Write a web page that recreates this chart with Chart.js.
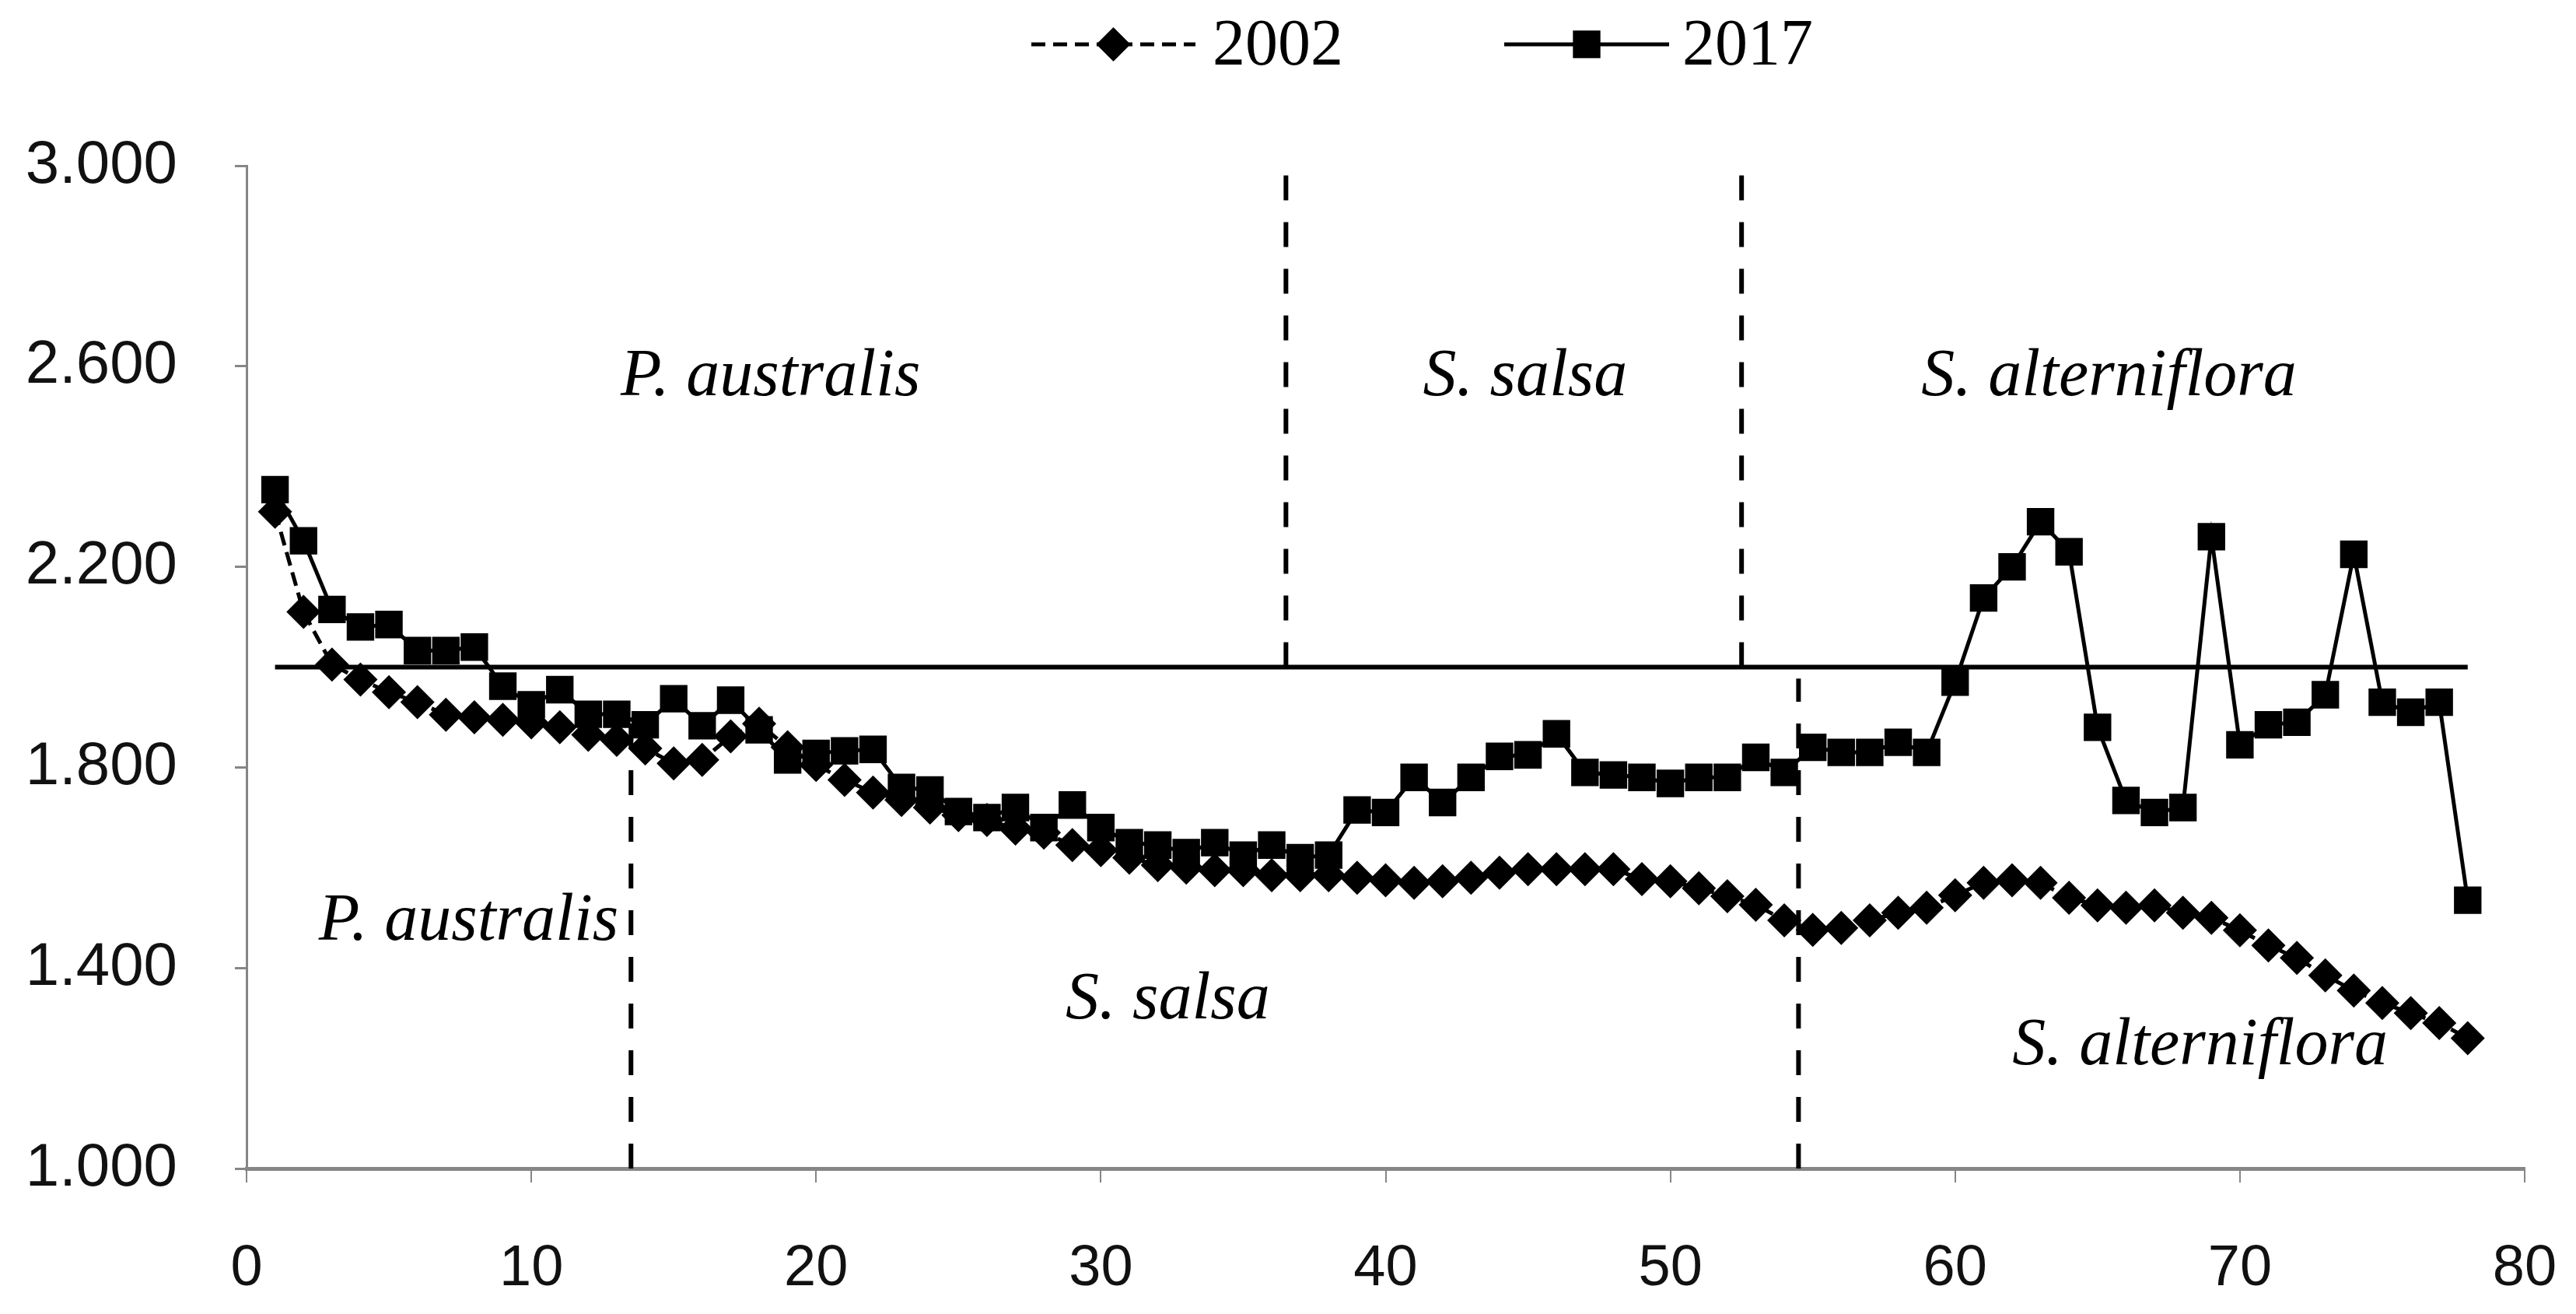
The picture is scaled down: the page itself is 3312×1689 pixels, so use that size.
<!DOCTYPE html>
<html>
<head>
<meta charset="utf-8">
<script src="https://cdn.jsdelivr.net/npm/chart.js@4.4.1/dist/chart.umd.min.js"></script>
<style>
    html, body { margin: 0; padding: 0; background: #fff; }
    #wrap { width: 3312px; height: 1689px; }
</style>
</head>
<body>
<div id="wrap"><canvas id="mychart" width="3312" height="1689"></canvas></div>
<script>
"use strict";

// sampling positions along the transect
const POSITIONS = [
    1, 2, 3, 4, 5, 6, 7, 8, 9, 10, 11, 12, 13, 14, 15, 16, 17, 18, 19, 20,
    21, 22, 23, 24, 25, 26, 27, 28, 29, 30, 31, 32, 33, 34, 35, 36, 37, 38, 39, 40,
    41, 42, 43, 44, 45, 46, 47, 48, 49, 50, 51, 52, 53, 54, 55, 56, 57, 58, 59, 60,
    61, 62, 63, 64, 65, 66, 67, 68, 69, 70, 71, 72, 73, 74, 75, 76, 77, 78
];

const VALUES_2002 = [
    2.31, 2.11, 2.005, 1.975, 1.95, 1.93, 1.905, 1.90, 1.895, 1.89,
    1.88, 1.865, 1.855, 1.838, 1.808, 1.815, 1.862, 1.887, 1.84, 1.805,
    1.775, 1.75, 1.735, 1.72, 1.705, 1.695, 1.678, 1.67, 1.645, 1.635,
    1.62, 1.605, 1.60, 1.595, 1.595, 1.585, 1.585, 1.585, 1.58, 1.575,
    1.57, 1.573, 1.58, 1.59, 1.597, 1.597, 1.597, 1.597, 1.577, 1.573,
    1.559, 1.543, 1.526, 1.495, 1.476, 1.48, 1.495, 1.51, 1.52, 1.545,
    1.57, 1.575, 1.57, 1.54, 1.525, 1.52, 1.525, 1.51, 1.50, 1.475,
    1.445, 1.42, 1.385, 1.355, 1.33, 1.31, 1.29, 1.26
];

const VALUES_2017 = [
    2.354, 2.252, 2.115, 2.08, 2.085, 2.033, 2.033, 2.04, 1.962, 1.925,
    1.955, 1.906, 1.906, 1.885, 1.937, 1.883, 1.934, 1.875, 1.815, 1.828,
    1.833, 1.836, 1.76, 1.755, 1.712, 1.70, 1.72, 1.68, 1.725, 1.68,
    1.65, 1.645, 1.63, 1.65, 1.625, 1.645, 1.62, 1.625, 1.715, 1.71,
    1.78, 1.73, 1.78, 1.822, 1.825, 1.867, 1.79, 1.785, 1.78, 1.768,
    1.78, 1.78, 1.82, 1.79, 1.84, 1.83, 1.83, 1.85, 1.83, 1.97,
    2.138, 2.20, 2.29, 2.23, 1.88, 1.734, 1.71, 1.72, 2.26, 1.845,
    1.885, 1.89, 1.945, 2.225, 1.93, 1.91, 1.93, 1.535
];

const SERIES_NAMES = ["2002", "2017"];

// reference line at 2.0 and vegetation zone boundaries
const THRESHOLD = 2.0;
const THRESHOLD_SPAN = [1, 78];
const BOUNDS_2002 = [13.5, 54.5];
const BOUNDS_2002_TOP = [1.915, 1.977];
const BOUNDS_2017 = [36.5, 52.5];
const BOUNDS_2017_SPAN = [2.0, 2.985];

const ZONE_NAMES = ["P. australis", "S. salsa", "S. alterniflora"];

const Y_TICKS = [1.0, 1.4, 1.8, 2.2, 2.6, 3.0];
const X_TICKS = [0, 10, 20, 30, 40, 50, 60, 70, 80];

// where the zone names sit, in data units (layout only)
const zoneLabelSpots = [
    {zone: 0, x: 18.4, y: 2.577},
    {zone: 1, x: 44.9, y: 2.577},
    {zone: 2, x: 65.4, y: 2.577},
    {zone: 0, x: 7.8, y: 1.492},
    {zone: 1, x: 32.35, y: 1.334},
    {zone: 2, x: 68.6, y: 1.243}
];

const SERIF = '"Liberation Serif", "Times New Roman", serif';
const SANS = '"Liberation Sans", Arial, sans-serif';
const GREY = "#868686";

const pts = (xs, ys) => xs.map((x, i) => ({x: x, y: ys[i]}));

const seriesStyles = [
    {pointStyle: "rectRot", radius: 22, dash: [18, 9]},
    {pointStyle: "rect", radius: 25, dash: []}
];

//legend: line with marker, like the spreadsheet one
const legendLayout = {
    y: 57,
    items: [
        {x0: 1326, x1: 1537, textX: 1559, dash: [18, 10]},
        {x0: 1934, x1: 2146, textX: 2163, dash: []}
    ]
};

const lineLegend = {
    id: "lineLegend",
    afterDraw(chart) {
        const ctx = chart.ctx;
        ctx.save();
        legendLayout.items.forEach((item, i) => {
            ctx.strokeStyle = "#000";
            ctx.fillStyle = "#000";
            ctx.lineWidth = 5;
            ctx.setLineDash(item.dash);
            ctx.beginPath();
            ctx.moveTo(item.x0, legendLayout.y);
            ctx.lineTo(item.x1, legendLayout.y);
            ctx.stroke();
            ctx.setLineDash([]);
            Chart.helpers.drawPoint(ctx, {
                pointStyle: seriesStyles[i].pointStyle,
                radius: seriesStyles[i].radius,
                rotation: 0,
                borderWidth: 0
            }, (item.x0 + item.x1) / 2, legendLayout.y);
            ctx.font = "84px " + SERIF;
            ctx.textAlign = "left";
            ctx.textBaseline = "middle";
            ctx.fillText(SERIES_NAMES[i], item.textX, legendLayout.y + 4);
        });
        ctx.restore();
    }
};

const zoneLabels = {
    id: "zoneLabels",
    afterDatasetsDraw(chart) {
        const {ctx, scales: {x, y}} = chart;
        ctx.save();
        ctx.font = "italic 86px " + SERIF;
        ctx.fillStyle = "#000";
        ctx.textAlign = "center";
        ctx.textBaseline = "middle";
        zoneLabelSpots.forEach(s => {
            ctx.fillText(ZONE_NAMES[s.zone], x.getPixelForValue(s.x), y.getPixelForValue(s.y));
        });
        ctx.restore();
    }
};

function boundaryLine(xv, y0, y1) {
    return {
        data: [{x: xv, y: y0}, {x: xv, y: y1}],
        borderColor: "#000",
        borderWidth: 6,
        borderDash: [32, 28],
        pointRadius: 0,
        order: 5
    };
}

const datasets = [
    {
        label: SERIES_NAMES[1],
        data: pts(POSITIONS, VALUES_2017),
        borderColor: "#000",
        backgroundColor: "#000",
        borderWidth: 5,
        pointStyle: seriesStyles[1].pointStyle,
        pointRadius: seriesStyles[1].radius,
        pointBorderWidth: 0,
        order: 1
    },
    {
        label: SERIES_NAMES[0],
        data: pts(POSITIONS, VALUES_2002),
        borderColor: "#000",
        backgroundColor: "#000",
        borderWidth: 5,
        borderDash: seriesStyles[0].dash,
        pointStyle: seriesStyles[0].pointStyle,
        pointRadius: seriesStyles[0].radius,
        pointBorderWidth: 0,
        order: 2
    },
    {
        data: THRESHOLD_SPAN.map(xv => ({x: xv, y: THRESHOLD})),
        borderColor: "#000",
        borderWidth: 6,
        pointRadius: 0,
        order: 4
    },
    boundaryLine(BOUNDS_2002[0], Y_TICKS[0], BOUNDS_2002_TOP[0]),
    boundaryLine(BOUNDS_2002[1], Y_TICKS[0], BOUNDS_2002_TOP[1]),
    boundaryLine(BOUNDS_2017[0], BOUNDS_2017_SPAN[0], BOUNDS_2017_SPAN[1]),
    boundaryLine(BOUNDS_2017[1], BOUNDS_2017_SPAN[0], BOUNDS_2017_SPAN[1])
];

new Chart(document.getElementById("mychart"), {
    type: "line",
    data: {datasets: datasets},
    plugins: [zoneLabels, lineLegend],
    options: {
        responsive: false,
        devicePixelRatio: 1,
        animation: false,
        layout: {padding: {top: 213, right: 66, left: 0, bottom: 0}},
        plugins: {
            legend: {display: false},
            tooltip: {enabled: false}
        },
        elements: {line: {tension: 0}},
        scales: {
            x: {
                type: "linear",
                min: X_TICKS[0],
                max: X_TICKS[X_TICKS.length - 1],
                afterFit(scale) {
                    scale.height = 187;
                    scale.paddingLeft = 0;
                    scale.paddingRight = 0;
                },
                afterBuildTicks(scale) { scale.ticks = X_TICKS.map(v => ({value: v})); },
                ticks: {
                    font: {family: SANS, size: 74},
                    color: "#111",
                    padding: 67,
                    maxRotation: 0
                },
                grid: {drawOnChartArea: false, tickLength: 18, color: GREY, lineWidth: 2},
                border: {color: GREY, width: 5}
            },
            y: {
                min: Y_TICKS[0],
                max: Y_TICKS[Y_TICKS.length - 1],
                afterFit(scale) {
                    scale.width = 317;
                    scale.paddingTop = 0;
                    scale.paddingBottom = 0;
                },
                afterBuildTicks(scale) { scale.ticks = Y_TICKS.map(v => ({value: v})); },
                ticks: {
                    font: {family: SANS, size: 78},
                    color: "#111",
                    padding: 74,
                    callback: v => v.toFixed(3)
                },
                grid: {drawOnChartArea: false, tickLength: 15, color: GREY, lineWidth: 3},
                border: {color: GREY, width: 3}
            }
        }
    }
});
</script>
</body>
</html>
